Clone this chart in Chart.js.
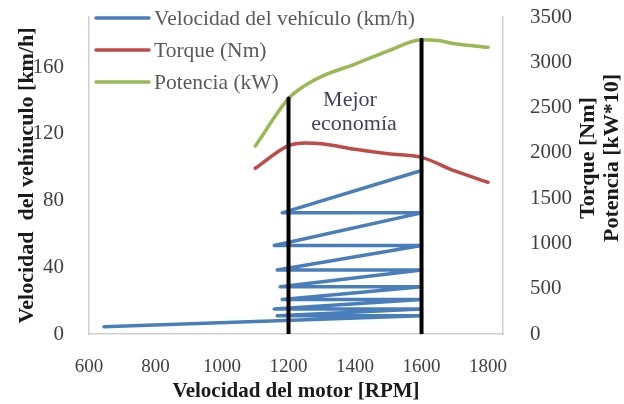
<!DOCTYPE html>
<html>
<head>
<meta charset="utf-8">
<script src="https://cdn.jsdelivr.net/npm/chart.js@4"></script>
<style>
  body { margin: 0; background: #fff; }
  #wrap { width: 624px; height: 404px; }
</style>
</head>
<body>
<div id="wrap"><canvas id="chart" width="624" height="404"></canvas></div>
<script>
// velocidad del vehiculo vs rpm (cambios de marcha)
const gearRpm = [645, 1600, 1166, 1600, 1157, 1600, 1181, 1600, 1175, 1600, 1166, 1600, 1157, 1600, 1181, 1600];
const gearSpeed = [4.4, 10.9, 10.9, 15.0, 15.0, 20.7, 20.7, 28.3, 28.3, 38.4, 38.4, 53.0, 53.0, 72.6, 72.6, 98];

// torque (Nm)
const torqueRpm = [1100, 1200, 1250, 1300, 1400, 1500, 1600, 1700, 1800];
const torqueVal = [1830, 2080, 2110, 2100, 2040, 1990, 1950, 1800, 1675];

// potencia (kW*10)
const powerRpm = [1100, 1200, 1250, 1300, 1400, 1500, 1600, 1650, 1700, 1800];
const powerVal = [2075, 2600, 2745, 2845, 2980, 3125, 3250, 3240, 3205, 3165];

// zona de mejor economia
const ecoRpm = [1200, 1600];
const ecoTop = [2600, 3250];

const xTicks = [600, 800, 1000, 1200, 1400, 1600, 1800];

const serif = "'Liberation Serif', 'Times New Roman', serif";
const blue = "#4a7ebb", red = "#be4b48", green = "#98b954";

function pts(xs, ys) {
  return xs.map((x, i) => ({ x: x, y: ys[i] }));
}

const datasets = [
  { label: "Velocidad del vehículo (km/h)", data: pts(gearRpm, gearSpeed), borderColor: blue, yAxisID: "y", order: 2, tension: 0 },
  { label: "Torque (Nm)", data: pts(torqueRpm, torqueVal), borderColor: red, yAxisID: "y1", order: 3, cubicInterpolationMode: "monotone" },
  { label: "Potencia (kW)", data: pts(powerRpm, powerVal), borderColor: green, yAxisID: "y1", order: 3, cubicInterpolationMode: "monotone" },
];
ecoRpm.forEach((r, i) => {
  datasets.push({ label: "", data: [{ x: r, y: 0 }, { x: r, y: ecoTop[i] }], borderColor: "#000", borderWidth: 4, yAxisID: "y1", order: 0, isMark: true });
});
datasets.forEach((d) => {
  d.pointRadius = 0;
  d.fill = false;
  if (!d.borderWidth) d.borderWidth = 3.5;
  d.borderCapStyle = "round";
  d.borderJoinStyle = "round";
});

// leyenda, titulo derecho y texto "Mejor economia"
const extras = {
  id: "extras",
  afterDraw(chart) {
    const ctx = chart.ctx;
    ctx.save();
    // leyenda
    const items = datasets.filter((d) => !d.isMark);
    const rows = [18, 50, 82];
    ctx.font = "21.5px " + serif;
    ctx.textBaseline = "middle";
    ctx.textAlign = "left";
    items.forEach((d, i) => {
      ctx.strokeStyle = d.borderColor;
      ctx.lineWidth = 3.5;
      ctx.lineCap = "round";
      ctx.beginPath();
      ctx.moveTo(96, rows[i]);
      ctx.lineTo(149, rows[i]);
      ctx.stroke();
      ctx.fillStyle = "#595959";
      ctx.fillText(d.label, 154, rows[i] + 1);
    });
    // mejor economia
    ctx.font = "22px " + serif;
    ctx.fillStyle = "#463c5e";
    ctx.textAlign = "center";
    ctx.fillText("Mejor", 350, 100);
    ctx.fillText("economía", 354, 124);
    // titulos eje derecho
    ctx.fillStyle = "#1a1a1a";
    ctx.font = "bold 22px " + serif;
    [["Torque [Nm]", 588], ["Potencia [kW*10]", 612]].forEach(([t, x]) => {
      ctx.save();
      ctx.translate(x, 158);
      ctx.rotate(-Math.PI / 2);
      ctx.fillText(t, 0, 0);
      ctx.restore();
    });
    ctx.restore();
  },
};

const plain = (v) => String(v);
const border = { display: true, color: "#cfcfcf", width: 1.5 };
const noPad = (s) => { s.paddingTop = 0; s.paddingBottom = 0; s.paddingLeft = 0; s.paddingRight = 0; };

new Chart(document.getElementById("chart"), {
  type: "line",
  data: { datasets: datasets },
  options: {
    responsive: false,
    animation: false,
    layout: { padding: { top: 17, left: 0, right: 0, bottom: 0 } },
    plugins: { legend: { display: false }, tooltip: { enabled: false } },
    scales: {
      x: {
        type: "linear",
        min: 600,
        max: 1845,
        grid: { display: false },
        border: border,
        afterBuildTicks: (s) => { s.ticks = xTicks.map((v) => ({ value: v })); },
        afterFit: (s) => { s.height = 70; noPad(s); },
        ticks: { font: { family: serif, size: 19 }, color: "#404040", padding: 14, maxRotation: 0, callback: plain },
        title: { display: true, text: "Velocidad del motor [RPM]", color: "#1a1a1a", font: { family: serif, size: 21, weight: "bold" }, padding: { top: 0, bottom: 0 } },
      },
      y: {
        position: "left",
        min: 0,
        max: 190,
        grid: { display: false },
        border: border,
        afterFit: (s) => { s.width = 89; noPad(s); },
        ticks: { stepSize: 40, includeBounds: false, font: { family: serif, size: 21 }, color: "#404040", padding: 17, callback: plain },
        title: { display: true, text: "Velocidad  del vehíuculo [km/h]", color: "#1a1a1a", font: { family: serif, size: 22, weight: "bold" }, padding: { top: 14, bottom: 0 } },
      },
      y1: {
        position: "right",
        min: 0,
        max: 3500,
        grid: { display: false },
        border: border,
        afterFit: (s) => { s.width = 121; noPad(s); },
        ticks: { stepSize: 500, font: { family: serif, size: 21 }, color: "#404040", padding: 19, callback: plain },
      },
    },
  },
  plugins: [extras],
});
</script>
</body>
</html>
